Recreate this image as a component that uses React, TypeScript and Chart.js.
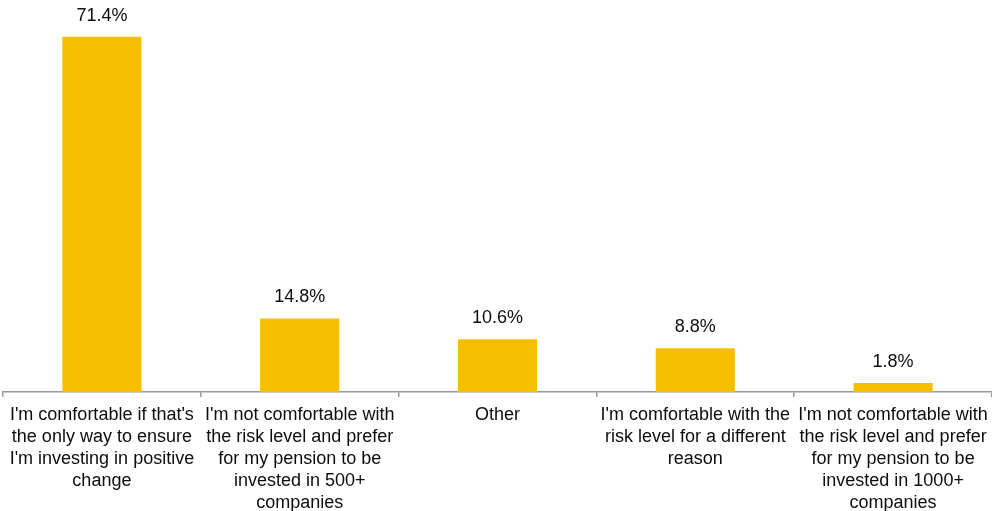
import React, { useEffect, useRef } from "react";
import { Chart, registerables } from "chart.js";

Chart.register(...registerables);

const categories: string[][] = [
  ["I'm comfortable if that's", "the only way to ensure", "I'm investing in positive", "change"],
  ["I'm not comfortable with", "the risk level and prefer", "for my pension to be", "invested in 500+", "companies"],
  ["Other"],
  ["I'm comfortable with the", "risk level for a different", "reason"],
  ["I'm not comfortable with", "the risk level and prefer", "for my pension to be", "invested in 1000+", "companies"],
];
const values: number[] = [71.4, 14.8, 10.6, 8.8, 1.8];
const valueLabels: string[] = ["71.4%", "14.8%", "10.6%", "8.8%", "1.8%"];

const FONT = "'Liberation Sans', Arial, sans-serif";

const dataLabelPlugin = {
  id: "dataLabels",
  afterDatasetsDraw(chart: any) {
    const ctx = chart.ctx;
    const meta = chart.getDatasetMeta(0);
    ctx.save();
    ctx.font = `18px ${FONT}`;
    ctx.fillStyle = "#0d0d0d";
    ctx.textAlign = "center";
    ctx.textBaseline = "middle";
    meta.data.forEach((bar: any, i: number) => {
      ctx.fillText(valueLabels[i], bar.x, bar.y - 21);
    });
    ctx.restore();
  },
};

export default function App() {
  const ref = useRef<HTMLCanvasElement | null>(null);
  useEffect(() => {
    if (!ref.current) return;
    const chart = new Chart(ref.current, {
      type: "bar",
      data: {
        labels: categories,
        datasets: [
          {
            data: values,
            backgroundColor: "#F5BF00",
            borderWidth: 0,
            barPercentage: 0.4,
            categoryPercentage: 1,
          },
        ],
      },
      options: {
        responsive: false,
        animation: false,
        layout: { padding: { left: 3, right: 0, top: 8, bottom: 0 } },
        plugins: { legend: { display: false }, tooltip: { enabled: false } },
        scales: {
          x: {
            offset: true,
            grid: {
              offset: true,
              drawOnChartArea: false,
              drawTicks: true,
              tickLength: 5,
              color: "#999999",
              lineWidth: 1.5,
            },
            border: { display: true, color: "#999999", width: 1.5 },
            ticks: {
              autoSkip: false,
              maxRotation: 0,
              minRotation: 0,
              padding: 7,
              color: "#0d0d0d",
              font: { family: FONT, size: 18, lineHeight: 1.222 },
            },
            afterFit(scale: any) {
              scale.height = 119;
              scale.paddingLeft = 0;
              scale.paddingRight = 0;
            },
          },
          y: {
            display: false,
            min: 0,
            max: 77.2,
          },
        },
      },
      plugins: [dataLabelPlugin],
    });
    return () => chart.destroy();
  }, []);
  return (
    <div style={{ position: "absolute", left: 0, top: 0, width: 992, height: 511 }}>
      <canvas ref={ref} width={992} height={511} style={{ display: "block" }} />
    </div>
  );
}
